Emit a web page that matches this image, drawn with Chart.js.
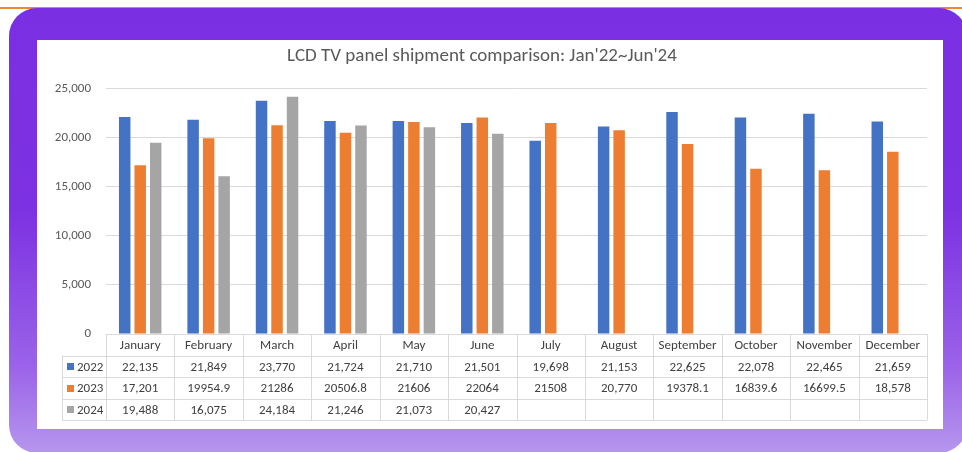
<!DOCTYPE html>
<html lang="en">
<head>
  <meta charset="UTF-8">
  <title>LCD TV panel shipment comparison</title>
  <script src="https://cdn.jsdelivr.net/npm/chart.js"></script>
  <style>
    html, body { margin: 0; padding: 0; background: #fff; }
    body { width: 962px; height: 452px; position: relative; overflow: hidden; }
    .topline { position: absolute; left: 0; top: 7px; width: 962px; height: 2px; background: #ef8a2c; }
    .frame {
      position: absolute; left: 9px; top: 8px; width: 958px; height: 445px;
      border-radius: 28px;
      background: linear-gradient(180deg, #7b2fe2 0%, #7c31e2 45%, #9a62e8 80%, #b696ee 100%);
    }
    .card { position: absolute; left: 37px; top: 40px; width: 906px; height: 389px; background: #fff; }
    canvas { display: block; }
  </style>
</head>
<body>
  <div class="topline"></div>
  <div class="frame"></div>
  <div class="card">
    <canvas id="chart" width="906" height="389"></canvas>
  </div>

  <script>
    const months = ['January', 'February', 'March', 'April', 'May', 'June',
      'July', 'August', 'September', 'October', 'November', 'December'];
    const years = ['2022', '2023', '2024'];
    const y2022 = [22135, 21849, 23770, 21724, 21710, 21501, 19698, 21153, 22625, 22078, 22465, 21659];
    const y2023 = [17201, 19954.9, 21286, 20506.8, 21606, 22064, 21508, 20770, 19378.1, 16839.6, 16699.5, 18578];
    const y2024 = [19488, 16075, 24184, 21246, 21073, 20427, null, null, null, null, null, null];
    // cells of the 2023 row that were entered without a thousands separator
    const plain2023 = [false, true, true, true, true, true, true, false, true, true, true, false];
    const yTicks = [0, 5000, 10000, 15000, 20000, 25000];

    const colors = ['#4472c4', '#ed7d31', '#a5a5a5'];
    const font = 'Carlito, Calibri, Lato, sans-serif';

    const fmt = (v, plain) => v == null ? '' : (plain ? String(v) : v.toLocaleString('en-US'));

    // data table drawn under the plot, columns follow the x scale
    const dataTable = {
      id: 'dataTable',
      afterDraw(chart) {
        const { ctx, chartArea, scales } = chart;
        const x = scales.x;
        const rowH = 21.5;
        const top = chartArea.bottom;
        const half = (x.getPixelForValue(1) - x.getPixelForValue(0)) / 2;
        const keyLeft = 25;
        const rows = [y2022, y2023, y2024];

        ctx.save();
        ctx.strokeStyle = '#d9d9d9';
        ctx.lineWidth = 1;
        ctx.beginPath();
        // horizontal rules
        ctx.moveTo(chartArea.left, top + 0.5);
        ctx.lineTo(chartArea.right, top + 0.5);
        for (let r = 1; r <= 4; r++) {
          const yy = Math.round(top + r * rowH) + 0.5;
          ctx.moveTo(keyLeft, yy);
          ctx.lineTo(chartArea.right, yy);
        }
        // vertical rules
        for (let i = 0; i <= months.length; i++) {
          const xx = Math.round(x.getPixelForValue(0) - half + i * half * 2) + 0.5;
          ctx.moveTo(xx, top);
          ctx.lineTo(xx, top + 4 * rowH);
        }
        ctx.moveTo(keyLeft + 0.5, top + rowH);
        ctx.lineTo(keyLeft + 0.5, top + 4 * rowH);
        ctx.stroke();

        ctx.fillStyle = '#404040';
        ctx.font = '13px ' + font;
        ctx.textAlign = 'center';
        ctx.textBaseline = 'middle';
        months.forEach((m, i) => {
          ctx.fillText(m, x.getPixelForValue(i), top + rowH / 2 + 1);
        });
        rows.forEach((vals, r) => {
          const cy = top + (r + 1) * rowH + rowH / 2 + 1;
          vals.forEach((v, i) => {
            const plain = r === 1 && plain2023[i];
            ctx.fillText(fmt(v, plain), x.getPixelForValue(i), cy);
          });
        });

        // legend keys
        ctx.textAlign = 'left';
        years.forEach((yr, r) => {
          const cy = top + (r + 1) * rowH + rowH / 2 + 1;
          ctx.fillStyle = colors[r];
          ctx.fillRect(keyLeft + 5, Math.round(cy - 4), 7, 7);
          ctx.fillStyle = '#404040';
          ctx.fillText(yr, keyLeft + 15, cy);
        });
        ctx.restore();
      }
    };

    new Chart(document.getElementById('chart'), {
      type: 'bar',
      data: {
        labels: months,
        datasets: [y2022, y2023, y2024].map((d, i) => ({
          label: years[i],
          data: d,
          backgroundColor: colors[i],
          categoryPercentage: 0.68,
          barPercentage: 0.74
        }))
      },
      options: {
        responsive: false,
        animation: false,
        layout: { padding: { top: 0, right: 16, bottom: 0, left: 0 } },
        plugins: {
          legend: { display: false },
          tooltip: { enabled: false },
          title: {
            display: true,
            text: "LCD TV panel shipment comparison: Jan'22~Jun'24",
            color: '#595959',
            font: { family: font, size: 19, weight: 'normal' },
            padding: { top: 5, bottom: 21 }
          }
        },
        scales: {
          x: {
            grid: { display: false },
            border: { display: false },
            ticks: { display: false },
            afterFit: s => { s.height = 95; }
          },
          y: {
            min: 0,
            max: 25000,
            afterBuildTicks: s => { s.ticks = yTicks.map(v => ({ value: v })); },
            afterFit: s => { s.width = 69; },
            grid: { color: '#d9d9d9', drawTicks: false },
            border: { display: false },
            ticks: {
              padding: 15,
              color: '#595959',
              font: { family: font, size: 13 },
              callback: v => v.toLocaleString('en-US')
            }
          }
        }
      },
      plugins: [dataTable]
    });
  </script>
</body>
</html>
